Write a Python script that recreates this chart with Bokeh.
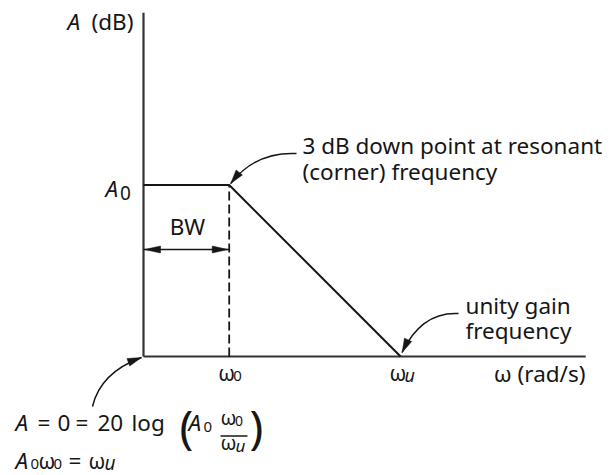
from math import hypot

from bokeh.plotting import figure
from bokeh.models import Range1d
from bokeh.core.properties import value
from bokeh.embed import file_html
from bokeh.resources import INLINE

# Asymptotic (Bode) magnitude plot of a single-pole amplifier
log_w = [0.0, 1.0, 3.0]        # decades: axis origin, corner ω0, unity-gain ωu
gain_db = [40.0, 40.0, 0.0]    # flat at A0 up to ω0, then -20 dB/decade down to 0 dB
w_axis_end = 5.16              # length of the ω axis, decades
a_axis_top = 80.2              # height of the A axis, dB

tick_symbol = ["ω", "ω"]
tick_sub = ["0", "u"]

FONT = "Noto Sans"
INK = "#161616"
AXIS = "#333333"

W, H = 609, 475
ORIGIN_PX = (143.0, 356.0)
SX = 85.7      # px per decade
SY = 4.2875    # px per dB
LIFT = 10.0    # renderer places the alphabetic baseline this far low


def X(px):
    return (px - ORIGIN_PX[0]) / SX


def Y(py):
    return (ORIGIN_PX[1] - py) / SY


def PX(x):
    return ORIGIN_PX[0] + x * SX


def PY(y):
    return ORIGIN_PX[1] - y * SY


p = figure(width=W, height=H, x_range=Range1d(X(0), X(W)), y_range=Range1d(Y(H), Y(0)),
           x_axis_type=None, y_axis_type=None, output_backend="svg",
           toolbar_location=None, min_border=0)
p.outline_line_color = None
p.background_fill_color = "white"
p.border_fill_color = "white"


def txt(px, py, s, size=22.5, style="normal", align="left"):
    p.text(x=[X(px)], y=[Y(py - LIFT)], text=[s], text_font=value(FONT),
           text_font_size=f"{size}px", text_font_style=style, text_align=align,
           text_baseline="alphabetic", text_color=INK)


def head(tx, ty, fx, fy, length=14, width=8):
    dx, dy = tx - fx, ty - fy
    n = hypot(dx, dy)
    ux, uy = dx / n, dy / n
    bx, by = tx - ux * length, ty - uy * length
    nx, ny = -uy, ux
    xs = [tx, bx + nx * width / 2, bx - nx * width / 2]
    ys = [ty, by + ny * width / 2, by - ny * width / 2]
    p.patch([X(a) for a in xs], [Y(b) for b in ys], fill_color=INK, line_color=INK, line_width=0.5)


def curved_arrow(sx, sy, cx, cy, tx, ty):
    p.quadratic(x0=[X(sx)], y0=[Y(sy)], x1=[X(tx)], y1=[Y(ty)], cx=[X(cx)], cy=[Y(cy)],
                line_color=INK, line_width=1.5)
    head(tx, ty, cx, cy, length=14, width=8)


# axes
p.line([0, 0], [0, a_axis_top], line_color=AXIS, line_width=2.2)
p.line([0, w_axis_end], [0, 0], line_color=AXIS, line_width=2.2)

# response: flat band, then roll-off
p.line(log_w, gain_db, line_color=INK, line_width=2)
p.line([log_w[1], log_w[1]], [0, gain_db[1]], line_color=INK, line_width=1.8, line_dash="9 4")

# bandwidth arrow between origin and ω0
bw_y = Y(249)
p.line([log_w[0], log_w[1]], [bw_y, bw_y], line_color=INK, line_width=1.6)
head(PX(log_w[0]) + 1, 249, PX(log_w[1]), 249, length=16, width=7)
head(PX(log_w[1]) - 1, 249, PX(log_w[0]), 249, length=16, width=7)
txt(187, 236, "BW", align="center")

# axis titles
txt(67, 30.5, "A", style="italic")
txt(133, 30.5, "(dB)", align="right")
txt(105, 198, "A", style="italic")
txt(119.5, 202, "0", size=19)
txt(585, 383, "ω (rad/s)", align="right")

# ω tick labels under ω0 and ωu
for lw, sym, sub in zip(log_w[1:], tick_symbol, tick_sub):
    cx = PX(lw)
    txt(cx - 11, 382, sym, size=21)
    if sub == "u":
        txt(cx + 4, 384.5, sub, size=18, style="italic")
    else:
        txt(cx + 4, 385.5, sub, size=15)

# corner-frequency callout
txt(302, 155, "3 dB down point at resonant")
txt(302, 181, "(corner) frequency")
corner_tip = (PX(log_w[1]) + 1.5, PY(gain_db[1]) - 1.5)
curved_arrow(296, 153, 255, 151, *corner_tip)

# unity-gain callout
txt(465, 315, "unity gain")
txt(465, 340, "frequency")
unity_tip = (PX(log_w[2]) + 1.5, PY(gain_db[2]) - 4)
curved_arrow(458, 313, 421, 311, *unity_tip)

# origin callout and gain-bandwidth relation
origin_tip = (PX(log_w[0]) - 2, PY(0) + 1)
curved_arrow(92, 406, 100, 372, *origin_tip)

base1 = 432
txt(15, base1, "A", style="italic")
txt(37, base1, "=")
txt(57, base1, "0")
txt(75, base1, "=")
txt(97, base1, "20")
txt(131, base1, "log")
txt(179, 435, "(", size=46)
txt(188, base1, "A", style="italic")
txt(203, base1 + 4, "0", size=15)
txt(220, 427, "ω", size=20)
txt(234.5, 430, "0", size=14)
p.line([X(220), X(247)], [Y(435.5), Y(435.5)], line_color=INK, line_width=1.5)
txt(220, 452, "ω", size=20)
txt(235, 455, "u", size=17, style="italic")
txt(249, 435, ")", size=46)

base2 = 470
txt(15, base2, "A", style="italic")
txt(30, base2 + 3, "0", size=15)
txt(38, base2, "ω", size=21)
txt(53, base2 + 3, "0", size=15)
txt(68, base2, "=")
txt(88, base2, "ω", size=21)
txt(104, base2 + 2.5, "u", size=19, style="italic")

open("out.html", "w").write(file_html(p, INLINE))
